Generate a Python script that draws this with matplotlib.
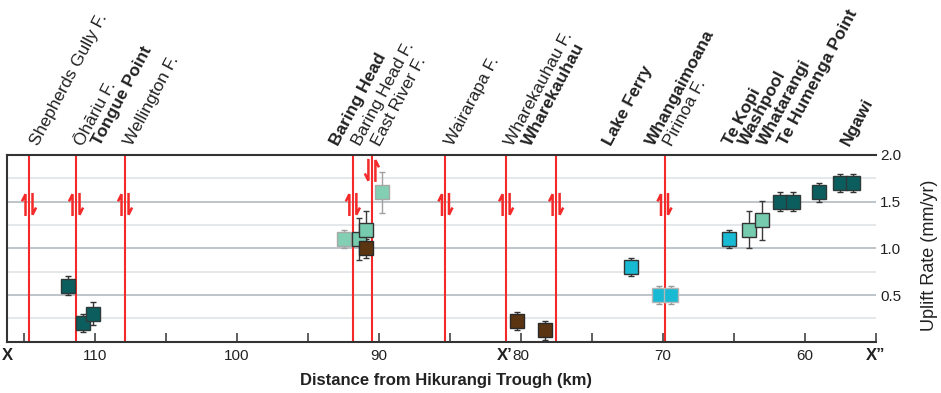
import numpy as np
import matplotlib
matplotlib.use("Agg")
import matplotlib.pyplot as plt

plt.rcParams['font.family'] = ['Liberation Sans', 'DejaVu Sans']

# faults (km from Hikurangi Trough)
fault_x = [114.63, 111.32, 107.87, 91.83, 90.49, 85.31, 81.04, 77.52, 69.89]
fault_sym_y = [1.47, 1.47, 1.47, 1.47, 1.835, 1.47, 1.47, 1.47, 1.47]
fault_sense = [1, 1, 1, 1, -1, 1, 1, 1, 1]

fault_names = ['Shepherds Gully F.', 'Ōhāriu F.', 'Wellington F.', 'Baring Head F.',
               'East River F.', 'Wairarapa F.', 'Wharekauhau F.', 'Pirinoa F.']
fault_label_x = [114.0, 110.83, 107.38, 91.32, 89.91, 84.77, 80.55, 69.37]

site_names = ['Tongue Point', 'Baring Head', 'Wharekauhau', 'Lake Ferry', 'Whangaimoana',
              'Te Kopi', 'Washpool', 'Whatarangi', 'Te Humenga Point', 'Ngawi']
site_label_x = [109.63, 92.87, 79.26, 73.6, 70.64, 65.15, 64.09, 62.75, 61.34, 56.91]

# uplift rates
pt_x = [111.9, 110.85, 110.1, 92.44, 91.41, 90.89, 90.89, 89.79, 80.26, 78.27, 72.23,
        70.31, 69.44, 65.38, 63.97, 63.03, 61.73, 60.86, 59.03, 57.5, 56.63]
pt_y = [0.6, 0.2, 0.3, 1.1, 1.1, 1.2, 1.0, 1.6, 0.22, 0.12, 0.8,
        0.5, 0.5, 1.1, 1.2, 1.3, 1.5, 1.5, 1.6, 1.7, 1.7]
pt_err = [0.1, 0.1, 0.12, 0.1, 0.22, 0.2, 0.1, 0.22, 0.1, 0.1, 0.1,
          0.1, 0.1, 0.1, 0.2, 0.21, 0.1, 0.1, 0.1, 0.1, 0.1]
pt_group = ['dark', 'dark', 'dark', 'pale', 'light', 'light', 'brown', 'pale', 'brown', 'brown', 'cyan',
            'cyanpale', 'cyanpale', 'cyan', 'light', 'light', 'dark', 'dark', 'dark', 'dark', 'dark']

styles = {
    'dark': ('#0c5d5e', '#2e3a3a', '#333333'),
    'pale': ('#82cfb4', '#a9a9a9', '#a0a0a0'),
    'light': ('#76caae', '#333333', '#3a3a3a'),
    'brown': ('#5b3511', '#2a2a2a', '#333333'),
    'cyan': ('#18b9d3', '#333333', '#333333'),
    'cyanpale': ('#18b9d3', '#b5b5b5', '#9a9a9a'),
}

fig = plt.figure(figsize=(9.41, 3.93), dpi=100)
ax = fig.add_axes([7/941, 1-341.7/393, (876-7)/941, (341.7-155)/393])
ax.set_xlim(116.18, 55)
ax.set_ylim(0, 2.0)

# grid
ax.set_yticks([0.5, 1.0, 1.5, 2.0])
ax.set_yticks([0.25, 0.75, 1.25, 1.75], minor=True)
ax.set_yticklabels(['0.5', '1.0', '1.5', '2.0'])
ax.grid(axis='y', which='major', color='#b8bfc6', lw=1.3)
ax.grid(axis='y', which='minor', color='#dce1e5', lw=1.1)
ax.set_axisbelow(True)
ax.yaxis.tick_right()
ax.tick_params(axis='y', which='both', length=0, pad=3, labelsize=11, labelcolor='#222222')

xt = np.arange(115, 54, -5)
ax.set_xticks(xt)
ax.set_xticklabels([''] * len(xt))
ax.tick_params(axis='x', direction='in', length=6.5, width=1.1, color='#333333')

for s in ['left', 'top', 'bottom']:
    ax.spines[s].set_color('#333333')
    ax.spines[s].set_linewidth(1.5)
ax.spines['right'].set_visible(False)

tr = ax.get_xaxis_transform()
ybase = -0.098
for t in xt:
    if t % 10 == 0:
        ax.text(t, ybase, str(t), transform=tr, ha='center', va='baseline',
                fontsize=11, color='#222222')

# faults
kmpx = (116.18 - 55) / (876 - 7)
for xf, yc, d in zip(fault_x, fault_sym_y, fault_sense):
    ax.axvline(xf, color='#f42a2a', lw=1.5, zorder=2)
    h, bh = 0.11, 0.065
    xl, xr, b = xf + 3.5*kmpx, xf - 3.5*kmpx, 3*kmpx
    ax.plot([xl, xl, xl + b], [yc - d*h, yc + d*h, yc + d*h - d*bh], color='#f42a2a', lw=1.8,
            solid_joinstyle='miter', zorder=2)
    ax.plot([xr, xr, xr - b], [yc + d*h, yc - d*h, yc - d*h + d*bh], color='#f42a2a', lw=1.8,
            solid_joinstyle='miter', zorder=2)

# uplift points
for g, (fc, ec, erc) in styles.items():
    idx = [i for i, k in enumerate(pt_group) if k == g]
    ax.errorbar([pt_x[i] for i in idx], [pt_y[i] for i in idx], yerr=[pt_err[i] for i in idx],
                fmt='s', ms=10.5, mfc=fc, mec=ec, mew=1, ecolor=erc, elinewidth=1,
                capsize=2.5, capthick=1, zorder=3)

# labels above
ylab = (341.7 - 147) / (341.7 - 155)
for x, n in zip(fault_label_x, fault_names):
    ax.text(x, ylab, n, transform=tr, rotation=62, rotation_mode='anchor',
            ha='left', va='baseline', fontsize=12.5, color='#222222')
for x, n in zip(site_label_x, site_names):
    ax.text(x, ylab, n, transform=tr, rotation=62, rotation_mode='anchor',
            ha='left', va='baseline', fontsize=12.5, fontweight='bold', color='#222222')

# profile ends
ax.text(0, ybase, 'X', transform=ax.transAxes, ha='center', va='baseline',
        fontsize=12, fontweight='bold', color='#222222')
ax.text(1, ybase, 'X\u201d', transform=ax.transAxes, ha='center', va='baseline',
        fontsize=12, fontweight='bold', color='#222222')
ax.text(80 + 8.5*kmpx, ybase, 'X\u2019', transform=tr, ha='right', va='baseline',
        fontsize=12, fontweight='bold', color='#222222')

fig.text(446/941, 1-381/393, 'Distance from Hikurangi Trough (km)', ha='center', va='center',
         fontsize=12, fontweight='bold', color='#222222')
fig.text(930/941, 1-255/393, 'Uplift Rate (mm/yr)', ha='center', va='center', rotation=90,
         fontsize=13, color='#222222')

fig.savefig('out.png', dpi=100)
